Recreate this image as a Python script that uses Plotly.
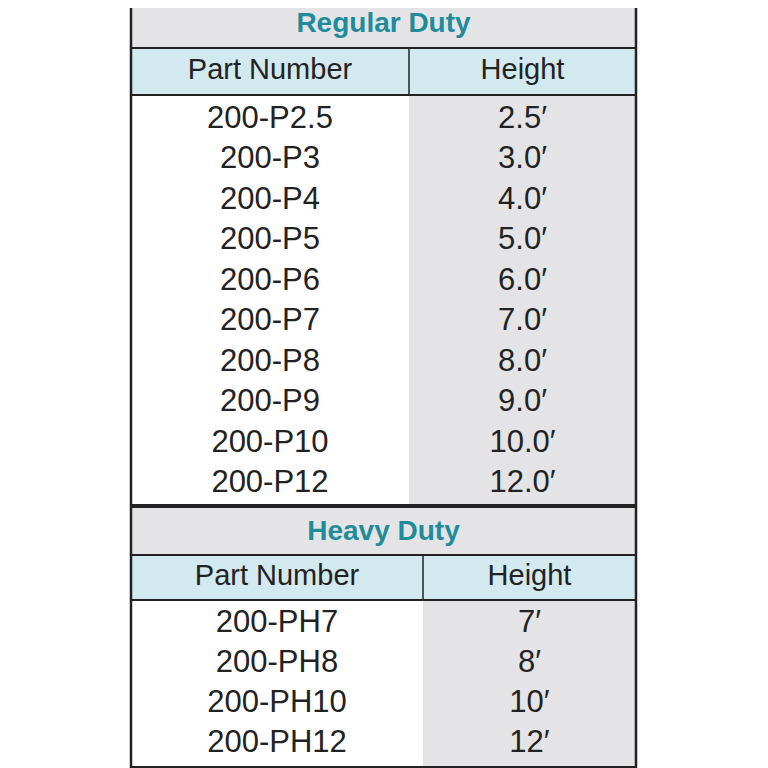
import plotly.graph_objects as go

reg_parts = ["200-P2.5","200-P3","200-P4","200-P5","200-P6","200-P7","200-P8","200-P9","200-P10","200-P12"]
reg_heights = ["2.5′","3.0′","4.0′","5.0′","6.0′","7.0′","8.0′","9.0′","10.0′","12.0′"]
hvy_parts = ["200-PH7","200-PH8","200-PH10","200-PH12"]
hvy_heights = ["7′","8′","10′","12′"]
titles = ["Regular Duty","Heavy Duty"]
headers = ["Part Number","Height"]

L, R = 131, 636
TEAL = "#1f8b9b"; GRAY = "#e4e4e6"; BLUE = "#d2e9ef"
fig = go.Figure()
shapes = []
def rect(x0,y0,x1,y1,fill,lw=0):
    shapes.append(dict(type="rect",x0=x0,y0=y0,x1=x1,y1=y1,fillcolor=fill,
                       line=dict(width=lw,color="#222"),layer="below"))
def line(x0,y0,x1,y1,w=2):
    shapes.append(dict(type="line",x0=x0,y0=y0,x1=x1,y1=y1,line=dict(width=w,color="#222")))

sections = [(reg_parts,reg_heights,0,48,95,505,409),(hvy_parts,hvy_heights,508,555,600,768,423)]
for i,(parts,hts,t0,h0,b0,b1,split) in enumerate(sections):
    rect(L,t0,R,h0,GRAY)
    rect(L,h0,R,b0,BLUE)
    rect(L,b0,split,b1,"white")
    rect(split,b0,R,b1,GRAY)
    line(L,h0,R,h0); line(L,b0,R,b0); line(split,h0,split,b0,1.5)
    fig.add_trace(go.Scatter(x=[(L+R)/2],y=[(t0+h0)/2+1],mode="text",text=[f"<b>{titles[i]}</b>"],
        textfont=dict(size=28,color=TEAL,family="Liberation Sans"),hoverinfo="skip"))
    fig.add_trace(go.Scatter(x=[(L+split)/2,(split+R)/2],y=[(h0+b0)/2]*2,mode="text",text=headers,
        textfont=dict(size=29,color="#222",family="Liberation Sans"),hoverinfo="skip"))
    n=len(parts)
    ys=[b0+25+k*40.5 for k in range(n)] if i==0 else [624+k*40 for k in range(n)]
    fig.add_trace(go.Scatter(x=[(L+split)/2]*n,y=ys,mode="text",text=parts,
        textfont=dict(size=31,color="#222",family="Liberation Sans"),hoverinfo="skip"))
    fig.add_trace(go.Scatter(x=[(split+R)/2]*n,y=ys,mode="text",text=hts,
        textfont=dict(size=31,color="#222",family="Liberation Sans"),hoverinfo="skip"))

line(L,506,R,506,4)
line(L,0,L,768,2.5); line(R,0,R,768,2.5); line(L,1,R,1,2); line(L,767,R,767,2)

fig.update_layout(width=760,height=760,margin=dict(l=0,r=0,t=0,b=0),showlegend=False,
    plot_bgcolor="white",paper_bgcolor="white",shapes=shapes,
    xaxis=dict(range=[8,768],visible=False,fixedrange=True),
    yaxis=dict(range=[768,8],visible=False,fixedrange=True))
fig.write_html("out.html")
